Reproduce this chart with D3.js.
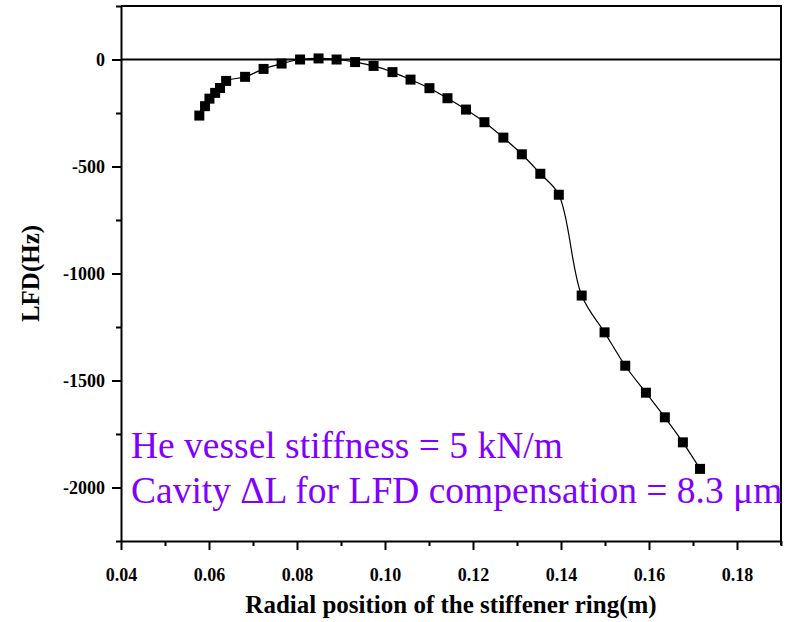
<!DOCTYPE html>
<html>
<head>
<meta charset="utf-8">
<script src="https://cdn.jsdelivr.net/npm/d3@7"></script>
</head>
<body style="margin:0">
<script>
// stiffener ring radial position (m)
var radialPos = [0.0578, 0.0591, 0.0601, 0.0614, 0.0625, 0.0639, 0.0682, 0.0724, 0.0765, 0.0807,
    0.0849, 0.0890, 0.0932, 0.0974, 0.1017, 0.1058, 0.1101, 0.1142, 0.1184, 0.1226,
    0.1269, 0.1311, 0.1353, 0.1395, 0.1447, 0.1499, 0.1546, 0.1593, 0.1636, 0.1677, 0.1716];
// LFD (Hz)
var lfdValues = [-262, -218, -183, -156, -133, -100, -81, -44, -19, 0,
    5, 0, -12, -30, -59, -94, -134, -181, -234, -293,
    -365, -443, -534, -632, -1103, -1275, -1431, -1557, -1672, -1789, -1913];
var xTicks = [0.04, 0.06, 0.08, 0.10, 0.12, 0.14, 0.16, 0.18];
var yTicks = [0, -500, -1000, -1500, -2000];
var noteLines = ["He vessel stiffness = 5 kN/m", "Cavity \u0394L for LFD compensation = 8.3 \u03BCm"];

var fontName = "Liberation Serif";
var serifFont = () => `"${fontName}"`;
var width = 792, height = 622;
var margin = { top: 6, right: 11, bottom: 81, left: 121 };
var svg = d3.select("body").append("svg").attr("width", width).attr("height", height);

var x = d3.scaleLinear().domain([0.04, 0.19]).range([margin.left, width - margin.right]);
var y = d3.scaleLinear().domain([-2250, 250]).range([height - margin.bottom, margin.top]);

var points = radialPos.map((r, i) => ({ r: r, lfd: lfdValues[i] }));

// zero line
svg.append("line")
    .attr("x1", x(0.04)).attr("x2", x(0.19))
    .attr("y1", y(0)).attr("y2", y(0))
    .attr("stroke", "#000").attr("stroke-width", 2);

// frame top/right
svg.append("path")
    .attr("d", `M${x(0.04)},${y(250)}H${x(0.19)}V${y(-2250) + 4}`)
    .attr("fill", "none").attr("stroke", "#000").attr("stroke-width", 2);

// minor ticks
svg.append("g")
    .attr("transform", `translate(0,${y(-2250)})`)
    .call(d3.axisBottom(x).tickValues(d3.range(0.05, 0.19, 0.02)).tickSize(5).tickFormat(""))
    .call(g => g.select(".domain").remove())
    .selectAll("line").attr("stroke-width", 2);
svg.append("g")
    .attr("transform", `translate(${x(0.04)},0)`)
    .call(d3.axisLeft(y).tickValues([250, -250, -750, -1250, -1750, -2250]).tickSize(5).tickFormat(""))
    .call(g => g.select(".domain").remove())
    .selectAll("line").attr("stroke-width", 2);

// major axes
var xAxis = svg.append("g")
    .attr("transform", `translate(0,${y(-2250)})`)
    .call(d3.axisBottom(x).tickValues(xTicks).tickSize(9).tickSizeOuter(0).tickPadding(18).tickFormat(d3.format(".2f")));
var yAxis = svg.append("g")
    .attr("transform", `translate(${x(0.04)},0)`)
    .call(d3.axisLeft(y).tickValues(yTicks).tickSize(9).tickSizeOuter(0).tickPadding(7).tickFormat(d => String(d)));
for (var ax of [xAxis, yAxis]) {
    ax.select(".domain").attr("stroke-width", 2);
    ax.selectAll("line").attr("stroke-width", 2);
    ax.selectAll("text")
        .attr("fill", "#000")
        .style("font-family", serifFont)
        .attr("font-size", 18)
        .attr("font-weight", "bold");
}

// curve
svg.append("path")
    .datum(points)
    .attr("fill", "none")
    .attr("stroke", "#000")
    .attr("stroke-width", 1.2)
    .attr("d", d3.line().x(d => x(d.r)).y(d => y(d.lfd)).curve(d3.curveCatmullRom.alpha(0.5)));

svg.append("g").selectAll("rect")
    .data(points)
    .join("rect")
    .attr("x", d => x(d.r) - 5)
    .attr("y", d => y(d.lfd) - 5)
    .attr("width", 10).attr("height", 10)
    .attr("fill", "#000");

// axis titles
svg.append("text")
    .attr("x", (x(0.04) + x(0.19)) / 2).attr("y", 613)
    .attr("text-anchor", "middle")
    .style("font-family", serifFont)
    .attr("font-size", 25).attr("font-weight", "bold")
    .text("Radial position of the stiffener ring(m)");
svg.append("text")
    .attr("transform", `translate(39,${(y(250) + y(-2250)) / 2}) rotate(-90)`)
    .attr("text-anchor", "middle")
    .style("font-family", serifFont)
    .attr("font-size", 25).attr("font-weight", "bold")
    .text("LFD(Hz)");

// annotation
svg.append("g").selectAll("text")
    .data(noteLines)
    .join("text")
    .attr("x", 131)
    .attr("y", (d, i) => 458 + i * 45)
    .style("font-family", serifFont)
    .attr("font-size", 37.5)
    .attr("fill", "#7f00ff")
    .text(d => d);
</script>
</body>
</html>
